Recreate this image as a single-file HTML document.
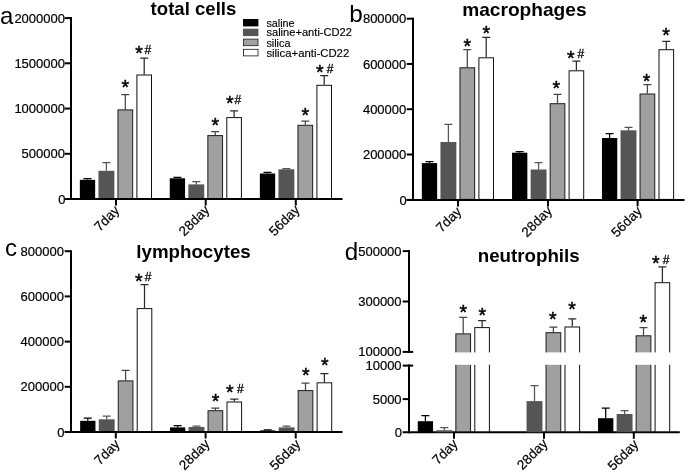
<!DOCTYPE html>
<html><head><meta charset="utf-8"><title>figure</title>
<style>
html,body{margin:0;padding:0;background:#fff;}
body{width:685px;height:472px;overflow:hidden;font-family:"Liberation Sans",sans-serif;}
svg{display:block;will-change:transform;filter:grayscale(1);font-family:"Liberation Sans",sans-serif;fill:#000;}
</style></head><body>
<svg width="685" height="472" viewBox="0 0 685 472">
<rect width="685" height="472" fill="#fff"/>
<path d="M87.50 179.80V178.60M83.50 178.60H91.50" stroke="#000" stroke-width="1.25" fill="none"/>
<rect x="79.85" y="179.80" width="15.30" height="19.20" fill="#000"/>
<path d="M106.40 170.80V162.70M102.40 162.70H110.40" stroke="#555" stroke-width="1.25" fill="none"/>
<rect x="98.45" y="170.80" width="15.90" height="28.20" fill="#555"/>
<path d="M125.30 109.40V94.60M121.30 94.60H129.30" stroke="#444" stroke-width="1.25" fill="none"/>
<rect x="117.95" y="109.90" width="14.70" height="88.60" fill="#a0a0a0" stroke="#1c1c1c" stroke-width="1.0"/>
<path d="M144.20 74.50V58.10M140.20 58.10H148.20" stroke="#2a2a2a" stroke-width="1.25" fill="none"/>
<rect x="136.90" y="75.00" width="14.60" height="123.50" fill="#fff" stroke="#111" stroke-width="1.0"/>
<path d="M177.40 178.30V177.30M173.40 177.30H181.40" stroke="#000" stroke-width="1.25" fill="none"/>
<rect x="169.75" y="178.30" width="15.30" height="20.70" fill="#000"/>
<path d="M196.30 184.40V181.60M192.30 181.60H200.30" stroke="#555" stroke-width="1.25" fill="none"/>
<rect x="188.35" y="184.40" width="15.90" height="14.60" fill="#555"/>
<path d="M215.20 135.10V131.50M211.20 131.50H219.20" stroke="#444" stroke-width="1.25" fill="none"/>
<rect x="207.85" y="135.60" width="14.70" height="62.90" fill="#a0a0a0" stroke="#1c1c1c" stroke-width="1.0"/>
<path d="M234.10 117.10V110.80M230.10 110.80H238.10" stroke="#2a2a2a" stroke-width="1.25" fill="none"/>
<rect x="226.80" y="117.60" width="14.60" height="80.90" fill="#fff" stroke="#111" stroke-width="1.0"/>
<path d="M267.50 173.50V172.40M263.50 172.40H271.50" stroke="#000" stroke-width="1.25" fill="none"/>
<rect x="259.85" y="173.50" width="15.30" height="25.50" fill="#000"/>
<path d="M286.40 169.30V168.50M282.40 168.50H290.40" stroke="#555" stroke-width="1.25" fill="none"/>
<rect x="278.45" y="169.30" width="15.90" height="29.70" fill="#555"/>
<path d="M305.30 124.80V121.10M301.30 121.10H309.30" stroke="#444" stroke-width="1.25" fill="none"/>
<rect x="297.95" y="125.30" width="14.70" height="73.20" fill="#a0a0a0" stroke="#1c1c1c" stroke-width="1.0"/>
<path d="M324.20 84.80V75.60M320.20 75.60H328.20" stroke="#2a2a2a" stroke-width="1.25" fill="none"/>
<rect x="316.90" y="85.30" width="14.60" height="113.20" fill="#fff" stroke="#111" stroke-width="1.0"/>
<path d="M429.50 163.10V161.70M425.50 161.70H433.50" stroke="#000" stroke-width="1.25" fill="none"/>
<rect x="421.85" y="163.10" width="15.30" height="36.80" fill="#000"/>
<path d="M448.40 142.00V124.40M444.40 124.40H452.40" stroke="#555" stroke-width="1.25" fill="none"/>
<rect x="440.45" y="142.00" width="15.90" height="57.90" fill="#555"/>
<path d="M467.30 67.30V49.60M463.30 49.60H471.30" stroke="#444" stroke-width="1.25" fill="none"/>
<rect x="459.95" y="67.80" width="14.70" height="131.60" fill="#a0a0a0" stroke="#1c1c1c" stroke-width="1.0"/>
<path d="M486.20 57.30V37.40M482.20 37.40H490.20" stroke="#2a2a2a" stroke-width="1.25" fill="none"/>
<rect x="478.90" y="57.80" width="14.60" height="141.60" fill="#fff" stroke="#111" stroke-width="1.0"/>
<path d="M519.70 152.70V151.60M515.70 151.60H523.70" stroke="#000" stroke-width="1.25" fill="none"/>
<rect x="512.05" y="152.70" width="15.30" height="47.20" fill="#000"/>
<path d="M538.60 169.50V162.50M534.60 162.50H542.60" stroke="#555" stroke-width="1.25" fill="none"/>
<rect x="530.65" y="169.50" width="15.90" height="30.40" fill="#555"/>
<path d="M557.50 103.20V94.40M553.50 94.40H561.50" stroke="#444" stroke-width="1.25" fill="none"/>
<rect x="550.15" y="103.70" width="14.70" height="95.70" fill="#a0a0a0" stroke="#1c1c1c" stroke-width="1.0"/>
<path d="M576.40 70.30V61.10M572.40 61.10H580.40" stroke="#2a2a2a" stroke-width="1.25" fill="none"/>
<rect x="569.10" y="70.80" width="14.60" height="128.60" fill="#fff" stroke="#111" stroke-width="1.0"/>
<path d="M609.60 138.00V133.70M605.60 133.70H613.60" stroke="#000" stroke-width="1.25" fill="none"/>
<rect x="601.95" y="138.00" width="15.30" height="61.90" fill="#000"/>
<path d="M628.50 130.30V127.40M624.50 127.40H632.50" stroke="#555" stroke-width="1.25" fill="none"/>
<rect x="620.55" y="130.30" width="15.90" height="69.60" fill="#555"/>
<path d="M647.40 93.50V84.60M643.40 84.60H651.40" stroke="#444" stroke-width="1.25" fill="none"/>
<rect x="640.05" y="94.00" width="14.70" height="105.40" fill="#a0a0a0" stroke="#1c1c1c" stroke-width="1.0"/>
<path d="M666.30 49.20V41.30M662.30 41.30H670.30" stroke="#2a2a2a" stroke-width="1.25" fill="none"/>
<rect x="659.00" y="49.70" width="14.60" height="149.70" fill="#fff" stroke="#111" stroke-width="1.0"/>
<path d="M87.80 420.80V418.10M83.80 418.10H91.80" stroke="#000" stroke-width="1.25" fill="none"/>
<rect x="80.15" y="420.80" width="15.30" height="11.20" fill="#000"/>
<path d="M106.70 419.30V416.20M102.70 416.20H110.70" stroke="#555" stroke-width="1.25" fill="none"/>
<rect x="98.75" y="419.30" width="15.90" height="12.70" fill="#555"/>
<path d="M125.60 380.40V370.30M121.60 370.30H129.60" stroke="#444" stroke-width="1.25" fill="none"/>
<rect x="118.25" y="380.90" width="14.70" height="50.60" fill="#a0a0a0" stroke="#1c1c1c" stroke-width="1.0"/>
<path d="M144.50 308.10V284.60M140.50 284.60H148.50" stroke="#2a2a2a" stroke-width="1.25" fill="none"/>
<rect x="137.20" y="308.60" width="14.60" height="122.90" fill="#fff" stroke="#111" stroke-width="1.0"/>
<path d="M177.60 427.40V425.50M173.60 425.50H181.60" stroke="#000" stroke-width="1.25" fill="none"/>
<rect x="169.95" y="427.40" width="15.30" height="4.60" fill="#000"/>
<path d="M196.50 427.00V426.20M192.50 426.20H200.50" stroke="#555" stroke-width="1.25" fill="none"/>
<rect x="188.55" y="427.00" width="15.90" height="5.00" fill="#555"/>
<path d="M215.40 410.20V408.00M211.40 408.00H219.40" stroke="#444" stroke-width="1.25" fill="none"/>
<rect x="208.05" y="410.70" width="14.70" height="20.80" fill="#a0a0a0" stroke="#1c1c1c" stroke-width="1.0"/>
<path d="M234.30 401.50V399.10M230.30 399.10H238.30" stroke="#2a2a2a" stroke-width="1.25" fill="none"/>
<rect x="227.00" y="402.00" width="14.60" height="29.50" fill="#fff" stroke="#111" stroke-width="1.0"/>
<path d="M267.70 430.40V429.90M263.70 429.90H271.70" stroke="#000" stroke-width="1.25" fill="none"/>
<rect x="260.05" y="430.40" width="15.30" height="1.60" fill="#000"/>
<path d="M286.60 427.40V426.20M282.60 426.20H290.60" stroke="#555" stroke-width="1.25" fill="none"/>
<rect x="278.65" y="427.40" width="15.90" height="4.60" fill="#555"/>
<path d="M305.50 390.10V383.20M301.50 383.20H309.50" stroke="#444" stroke-width="1.25" fill="none"/>
<rect x="298.15" y="390.60" width="14.70" height="40.90" fill="#a0a0a0" stroke="#1c1c1c" stroke-width="1.0"/>
<path d="M324.40 382.30V373.50M320.40 373.50H328.40" stroke="#2a2a2a" stroke-width="1.25" fill="none"/>
<rect x="317.10" y="382.80" width="14.60" height="48.70" fill="#fff" stroke="#111" stroke-width="1.0"/>
<path d="M409 250.1V352.9" stroke="#000" stroke-width="2" fill="none"/>
<path d="M409 364.6V433.3" stroke="#000" stroke-width="2" fill="none"/>
<path d="M402.7 432.3H679.8" stroke="#000" stroke-width="2" fill="none"/>
<path d="M402.7 251.1H409" stroke="#000" stroke-width="2" fill="none"/>
<text x="401.60" y="255.65" font-size="13" text-anchor="end" stroke="#000" stroke-width="0.2">500000</text>
<path d="M402.7 301.5H409" stroke="#000" stroke-width="2" fill="none"/>
<text x="401.60" y="306.05" font-size="13" text-anchor="end" stroke="#000" stroke-width="0.2">300000</text>
<path d="M402.7 351.9H413.2" stroke="#000" stroke-width="2" fill="none"/>
<text x="401.60" y="356.45" font-size="13" text-anchor="end" stroke="#000" stroke-width="0.2">100000</text>
<path d="M402.7 365.6H413.2" stroke="#000" stroke-width="2" fill="none"/>
<text x="401.60" y="370.15" font-size="13" text-anchor="end" stroke="#000" stroke-width="0.2">10000</text>
<path d="M402.7 399.1H409" stroke="#000" stroke-width="2" fill="none"/>
<text x="401.60" y="403.65" font-size="13" text-anchor="end" stroke="#000" stroke-width="0.2">5000</text>
<text x="402.10" y="437.25" font-size="13" text-anchor="end" stroke="#000" stroke-width="0.2">0</text>
<path d="M454 432.3V438.8" stroke="#000" stroke-width="2" fill="none"/>
<path d="M544 432.3V438.8" stroke="#000" stroke-width="2" fill="none"/>
<path d="M633.8 432.3V438.8" stroke="#000" stroke-width="2" fill="none"/>
<path d="M425.40 421.20V415.60M421.40 415.60H429.40" stroke="#000" stroke-width="1.25" fill="none"/>
<rect x="417.75" y="421.20" width="15.30" height="11.10" fill="#000"/>
<path d="M444.30 430.20V427.70M440.30 427.70H448.30" stroke="#555" stroke-width="1.25" fill="none"/>
<rect x="436.35" y="430.20" width="15.90" height="2.10" fill="#555"/>
<path d="M463.20 333.40V317.40M459.20 317.40H467.20" stroke="#444" stroke-width="1.25" fill="none"/>
<rect x="455.85" y="333.90" width="14.70" height="97.90" fill="#a0a0a0" stroke="#1c1c1c" stroke-width="1.0"/>
<path d="M482.10 327.10V320.70M478.10 320.70H486.10" stroke="#2a2a2a" stroke-width="1.25" fill="none"/>
<rect x="474.80" y="327.60" width="14.60" height="104.20" fill="#fff" stroke="#111" stroke-width="1.0"/>
<path d="M534.50 401.10V385.60M530.50 385.60H538.50" stroke="#555" stroke-width="1.25" fill="none"/>
<rect x="526.55" y="401.10" width="15.90" height="31.20" fill="#555"/>
<path d="M553.40 332.20V327.20M549.40 327.20H557.40" stroke="#444" stroke-width="1.25" fill="none"/>
<rect x="546.05" y="332.70" width="14.70" height="99.10" fill="#a0a0a0" stroke="#1c1c1c" stroke-width="1.0"/>
<path d="M572.30 326.50V318.80M568.30 318.80H576.30" stroke="#2a2a2a" stroke-width="1.25" fill="none"/>
<rect x="565.00" y="327.00" width="14.60" height="104.80" fill="#fff" stroke="#111" stroke-width="1.0"/>
<path d="M605.70 418.20V408.10M601.70 408.10H609.70" stroke="#000" stroke-width="1.25" fill="none"/>
<rect x="598.05" y="418.20" width="15.30" height="14.10" fill="#000"/>
<path d="M624.60 414.00V410.60M620.60 410.60H628.60" stroke="#555" stroke-width="1.25" fill="none"/>
<rect x="616.65" y="414.00" width="15.90" height="18.30" fill="#555"/>
<path d="M643.50 335.30V327.50M639.50 327.50H647.50" stroke="#444" stroke-width="1.25" fill="none"/>
<rect x="636.15" y="335.80" width="14.70" height="96.00" fill="#a0a0a0" stroke="#1c1c1c" stroke-width="1.0"/>
<path d="M662.40 282.20V266.80M658.40 266.80H666.40" stroke="#2a2a2a" stroke-width="1.25" fill="none"/>
<rect x="655.10" y="282.70" width="14.60" height="149.10" fill="#fff" stroke="#111" stroke-width="1.0"/>
<rect x="414" y="352.4" width="271" height="12.4" fill="#fff"/>
<path d="M71.00 17.10V200.00" stroke="#000" stroke-width="2" fill="none"/>
<path d="M64.70 199.00H342.50" stroke="#000" stroke-width="2" fill="none"/>
<path d="M64.70 18.10H71.00" stroke="#000" stroke-width="2" fill="none"/>
<text x="65.00" y="22.65" font-size="13" text-anchor="end" stroke="#000" stroke-width="0.2">2000000</text>
<path d="M64.70 63.30H71.00" stroke="#000" stroke-width="2" fill="none"/>
<text x="65.00" y="67.85" font-size="13" text-anchor="end" stroke="#000" stroke-width="0.2">1500000</text>
<path d="M64.70 108.55H71.00" stroke="#000" stroke-width="2" fill="none"/>
<text x="65.00" y="113.10" font-size="13" text-anchor="end" stroke="#000" stroke-width="0.2">1000000</text>
<path d="M64.70 153.80H71.00" stroke="#000" stroke-width="2" fill="none"/>
<text x="65.00" y="158.35" font-size="13" text-anchor="end" stroke="#000" stroke-width="0.2">500000</text>
<path d="M64.70 199.00H71.00" stroke="#000" stroke-width="2" fill="none"/>
<text x="65.50" y="203.95" font-size="13" text-anchor="end" stroke="#000" stroke-width="0.2">0</text>
<path d="M116.00 199.00V205.50" stroke="#000" stroke-width="2" fill="none"/>
<path d="M205.70 199.00V205.50" stroke="#000" stroke-width="2" fill="none"/>
<path d="M295.80 199.00V205.50" stroke="#000" stroke-width="2" fill="none"/>
<path d="M413.00 17.70V200.90" stroke="#000" stroke-width="2" fill="none"/>
<path d="M406.70 199.90H684.50" stroke="#000" stroke-width="2" fill="none"/>
<path d="M406.70 18.70H413.00" stroke="#000" stroke-width="2" fill="none"/>
<text x="406.30" y="23.25" font-size="13" text-anchor="end" stroke="#000" stroke-width="0.2">800000</text>
<path d="M406.70 63.95H413.00" stroke="#000" stroke-width="2" fill="none"/>
<text x="406.30" y="68.50" font-size="13" text-anchor="end" stroke="#000" stroke-width="0.2">600000</text>
<path d="M406.70 109.20H413.00" stroke="#000" stroke-width="2" fill="none"/>
<text x="406.30" y="113.75" font-size="13" text-anchor="end" stroke="#000" stroke-width="0.2">400000</text>
<path d="M406.70 154.50H413.00" stroke="#000" stroke-width="2" fill="none"/>
<text x="406.30" y="159.05" font-size="13" text-anchor="end" stroke="#000" stroke-width="0.2">200000</text>
<path d="M406.70 199.90H413.00" stroke="#000" stroke-width="2" fill="none"/>
<text x="406.80" y="204.85" font-size="13" text-anchor="end" stroke="#000" stroke-width="0.2">0</text>
<path d="M458.00 199.90V206.40" stroke="#000" stroke-width="2" fill="none"/>
<path d="M548.00 199.90V206.40" stroke="#000" stroke-width="2" fill="none"/>
<path d="M637.60 199.90V206.40" stroke="#000" stroke-width="2" fill="none"/>
<path d="M71.00 250.20V433.00" stroke="#000" stroke-width="2" fill="none"/>
<path d="M64.70 432.00H342.50" stroke="#000" stroke-width="2" fill="none"/>
<path d="M64.70 251.20H71.00" stroke="#000" stroke-width="2" fill="none"/>
<text x="64.00" y="255.75" font-size="13" text-anchor="end" stroke="#000" stroke-width="0.2">800000</text>
<path d="M64.70 296.40H71.00" stroke="#000" stroke-width="2" fill="none"/>
<text x="64.00" y="300.95" font-size="13" text-anchor="end" stroke="#000" stroke-width="0.2">600000</text>
<path d="M64.70 341.60H71.00" stroke="#000" stroke-width="2" fill="none"/>
<text x="64.00" y="346.15" font-size="13" text-anchor="end" stroke="#000" stroke-width="0.2">400000</text>
<path d="M64.70 386.80H71.00" stroke="#000" stroke-width="2" fill="none"/>
<text x="64.00" y="391.35" font-size="13" text-anchor="end" stroke="#000" stroke-width="0.2">200000</text>
<path d="M64.70 432.00H71.00" stroke="#000" stroke-width="2" fill="none"/>
<text x="64.50" y="436.95" font-size="13" text-anchor="end" stroke="#000" stroke-width="0.2">0</text>
<path d="M115.80 432.00V438.50" stroke="#000" stroke-width="2" fill="none"/>
<path d="M205.60 432.00V438.50" stroke="#000" stroke-width="2" fill="none"/>
<path d="M295.70 432.00V438.50" stroke="#000" stroke-width="2" fill="none"/>
<text x="121.50" y="94.19" font-size="19.5" stroke="#000" stroke-width="0.45">*</text>
<text x="135.30" y="59.99" font-size="19.5" stroke="#000" stroke-width="0.45">*</text>
<text x="211.40" y="131.99" font-size="19.5" stroke="#000" stroke-width="0.45">*</text>
<text x="226.00" y="110.09" font-size="19.5" stroke="#000" stroke-width="0.45">*</text>
<text x="301.40" y="121.79" font-size="19.5" stroke="#000" stroke-width="0.45">*</text>
<text x="316.00" y="79.39" font-size="19.5" stroke="#000" stroke-width="0.45">*</text>
<text x="463.50" y="53.09" font-size="19.5" stroke="#000" stroke-width="0.45">*</text>
<text x="482.40" y="39.59" font-size="19.5" stroke="#000" stroke-width="0.45">*</text>
<text x="552.40" y="94.99" font-size="19.5" stroke="#000" stroke-width="0.45">*</text>
<text x="566.90" y="64.59" font-size="19.5" stroke="#000" stroke-width="0.45">*</text>
<text x="642.70" y="87.59" font-size="19.5" stroke="#000" stroke-width="0.45">*</text>
<text x="662.30" y="42.39" font-size="19.5" stroke="#000" stroke-width="0.45">*</text>
<text x="135.00" y="287.79" font-size="19.5" stroke="#000" stroke-width="0.45">*</text>
<text x="211.80" y="408.39" font-size="19.5" stroke="#000" stroke-width="0.45">*</text>
<text x="226.10" y="398.89" font-size="19.5" stroke="#000" stroke-width="0.45">*</text>
<text x="301.90" y="382.29" font-size="19.5" stroke="#000" stroke-width="0.45">*</text>
<text x="320.90" y="372.49" font-size="19.5" stroke="#000" stroke-width="0.45">*</text>
<text x="459.60" y="319.49" font-size="19.5" stroke="#000" stroke-width="0.45">*</text>
<text x="478.50" y="322.39" font-size="19.5" stroke="#000" stroke-width="0.45">*</text>
<text x="549.00" y="326.29" font-size="19.5" stroke="#000" stroke-width="0.45">*</text>
<text x="568.30" y="316.09" font-size="19.5" stroke="#000" stroke-width="0.45">*</text>
<text x="639.50" y="328.79" font-size="19.5" stroke="#000" stroke-width="0.45">*</text>
<text x="652.00" y="270.09" font-size="19.5" stroke="#000" stroke-width="0.45">*</text>
<text x="144.47" y="53.70" font-size="12" stroke="#000" stroke-width="0.3">#</text>
<text x="234.47" y="103.80" font-size="12" stroke="#000" stroke-width="0.3">#</text>
<text x="326.67" y="72.80" font-size="12" stroke="#000" stroke-width="0.3">#</text>
<text x="577.57" y="58.20" font-size="12" stroke="#000" stroke-width="0.3">#</text>
<text x="144.87" y="281.30" font-size="12" stroke="#000" stroke-width="0.3">#</text>
<text x="237.07" y="392.80" font-size="12" stroke="#000" stroke-width="0.3">#</text>
<text x="662.87" y="263.50" font-size="12" stroke="#000" stroke-width="0.3">#</text>
<text transform="translate(120.35 211.25) rotate(-45)" font-size="13.5" text-anchor="end" stroke="#000" stroke-width="0.2">7day</text>
<text transform="translate(210.35 210.65) rotate(-45)" font-size="13.5" text-anchor="end" stroke="#000" stroke-width="0.2">28day</text>
<text transform="translate(300.45 210.65) rotate(-45)" font-size="13.5" text-anchor="end" stroke="#000" stroke-width="0.2">56day</text>
<text transform="translate(462.25 212.35) rotate(-45)" font-size="13.5" text-anchor="end" stroke="#000" stroke-width="0.2">7day</text>
<text transform="translate(552.95 211.65) rotate(-45)" font-size="13.5" text-anchor="end" stroke="#000" stroke-width="0.2">28day</text>
<text transform="translate(642.75 211.95) rotate(-45)" font-size="13.5" text-anchor="end" stroke="#000" stroke-width="0.2">56day</text>
<text transform="translate(120.55 444.95) rotate(-45)" font-size="13.5" text-anchor="end" stroke="#000" stroke-width="0.2">7day</text>
<text transform="translate(210.55 444.65) rotate(-45)" font-size="13.5" text-anchor="end" stroke="#000" stroke-width="0.2">28day</text>
<text transform="translate(301.25 444.95) rotate(-45)" font-size="13.5" text-anchor="end" stroke="#000" stroke-width="0.2">56day</text>
<text transform="translate(458.55 444.65) rotate(-45)" font-size="13.5" text-anchor="end" stroke="#000" stroke-width="0.2">7day</text>
<text transform="translate(548.45 444.45) rotate(-45)" font-size="13.5" text-anchor="end" stroke="#000" stroke-width="0.2">28day</text>
<text transform="translate(639.35 445.25) rotate(-45)" font-size="13.5" text-anchor="end" stroke="#000" stroke-width="0.2">56day</text>
<text x="-0.1" y="24.0" font-size="24">a</text>
<text x="349.3" y="22.4" font-size="24.3">b</text>
<text x="4.9" y="255.7" font-size="24">c</text>
<text x="344.8" y="260.1" font-size="24.2">d</text>
<text x="150.6" y="14.6" font-size="19" font-weight="bold" textLength="85.7" lengthAdjust="spacingAndGlyphs">total cells</text>
<text x="462.2" y="15.8" font-size="19" font-weight="bold" textLength="124.4" lengthAdjust="spacingAndGlyphs">macrophages</text>
<text x="136.3" y="258.3" font-size="19" font-weight="bold" textLength="114.4" lengthAdjust="spacingAndGlyphs">lymphocytes</text>
<text x="477.7" y="261.8" font-size="19" font-weight="bold" textLength="102.0" lengthAdjust="spacingAndGlyphs">neutrophils</text>
<rect x="243" y="19" width="15.4" height="7.4" fill="#000"/>
<rect x="243" y="28.7" width="15.4" height="7.4" fill="#555"/>
<rect x="243.4" y="39.1" width="14.6" height="6.6" fill="#a0a0a0" stroke="#1c1c1c" stroke-width="0.8"/>
<rect x="243.4" y="49.3" width="14.6" height="6.6" fill="#fff" stroke="#111" stroke-width="0.8"/>
<text x="266.4" y="26.8" font-size="10.8" stroke="#000" stroke-width="0.15">saline</text>
<text x="266.4" y="36.4" font-size="10.8" textLength="85.6" lengthAdjust="spacingAndGlyphs" stroke="#000" stroke-width="0.15">saline+anti-CD22</text>
<text x="266.4" y="46.6" font-size="10.8" stroke="#000" stroke-width="0.15">silica</text>
<text x="266.4" y="56.5" font-size="10.8" textLength="82.8" lengthAdjust="spacingAndGlyphs" stroke="#000" stroke-width="0.15">silica+anti-CD22</text>
<!--TEXT-->
</svg>
</body></html>
